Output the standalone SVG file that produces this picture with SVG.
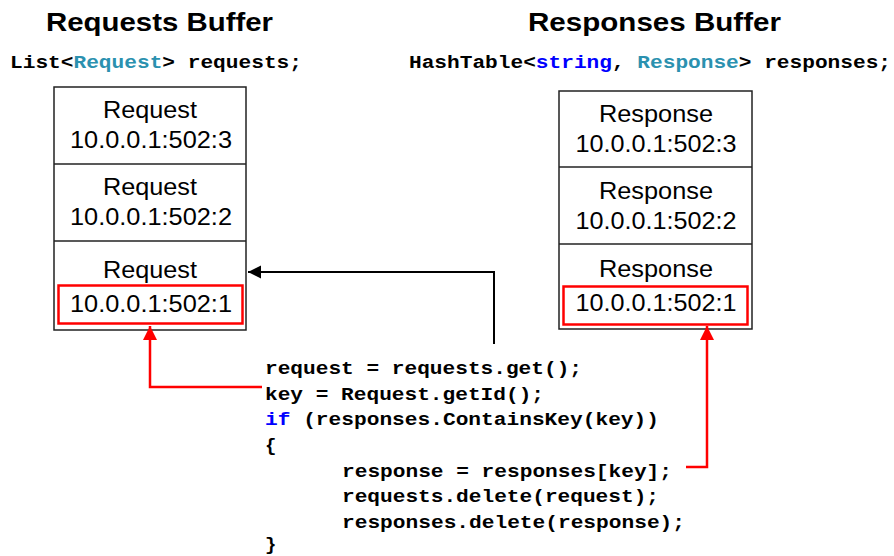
<svg xmlns="http://www.w3.org/2000/svg" width="894" height="556" viewBox="0 0 894 556">
<style>
.title{font-family:"Liberation Sans",Arial,sans-serif;font-weight:bold;font-size:26px;fill:#000}
.code{font-family:"Liberation Mono","Courier New",monospace;font-weight:bold;font-size:19px;fill:#000}
.cell{font-family:"Liberation Sans",Arial,sans-serif;font-size:23px;fill:#000;text-anchor:middle}
.box{fill:#fff;stroke:#222;stroke-width:1.5}
.div{stroke:#222;stroke-width:1.5}
.hl{fill:none;stroke:#f00;stroke-width:2.5}
.type{fill:#2b91af}
.kw{fill:#0000ff}
</style>
<defs>
<marker id="ah" viewBox="0 0 10 10" refX="10" refY="5" markerWidth="6.5" markerHeight="7" markerUnits="strokeWidth" orient="auto">
<path d="M0,0 L10,5 L0,10 z" fill="#000"/>
</marker>
<marker id="ahr" viewBox="0 0 10 10" refX="10" refY="5" markerWidth="5.6" markerHeight="5.6" markerUnits="strokeWidth" orient="auto">
<path d="M0,0 L10,5 L0,10 z" fill="#f00"/>
</marker>
</defs>

<g id="titles">
<text class="title" x="46" y="31" textLength="227" lengthAdjust="spacingAndGlyphs">Requests Buffer</text>
<text class="title" x="528" y="31" textLength="253" lengthAdjust="spacingAndGlyphs">Responses Buffer</text>
<text class="code" x="10" y="68" textLength="292" lengthAdjust="spacingAndGlyphs">List&lt;<tspan class="type">Request</tspan>&gt; requests;</text>
<text class="code" x="409" y="68" textLength="482" lengthAdjust="spacingAndGlyphs">HashTable&lt;<tspan class="kw">string</tspan>, <tspan class="type">Response</tspan>&gt; responses;</text>
</g>

<g id="requests">
<rect class="box" x="54" y="87" width="192" height="243"/>
<line class="div" x1="54" y1="164" x2="246" y2="164"/>
<line class="div" x1="54" y1="241" x2="246" y2="241"/>
<text class="cell" x="150" y="118" textLength="94" lengthAdjust="spacingAndGlyphs">Request</text>
<text class="cell" x="151" y="148" textLength="162" lengthAdjust="spacingAndGlyphs">10.0.0.1:502:3</text>
<text class="cell" x="150" y="195" textLength="94" lengthAdjust="spacingAndGlyphs">Request</text>
<text class="cell" x="151" y="225" textLength="162" lengthAdjust="spacingAndGlyphs">10.0.0.1:502:2</text>
<text class="cell" x="150" y="278" textLength="94" lengthAdjust="spacingAndGlyphs">Request</text>
<rect class="hl" x="58.5" y="285.5" width="184" height="38"/>
<text class="cell" x="151" y="312" textLength="162" lengthAdjust="spacingAndGlyphs">10.0.0.1:502:1</text>
</g>

<g id="responses">
<rect class="box" x="559" y="91" width="193" height="238"/>
<line class="div" x1="559" y1="167" x2="752" y2="167"/>
<line class="div" x1="559" y1="244" x2="752" y2="244"/>
<text class="cell" x="656" y="122" textLength="114" lengthAdjust="spacingAndGlyphs">Response</text>
<text class="cell" x="656" y="152" textLength="161" lengthAdjust="spacingAndGlyphs">10.0.0.1:502:3</text>
<text class="cell" x="656" y="199" textLength="114" lengthAdjust="spacingAndGlyphs">Response</text>
<text class="cell" x="656" y="229" textLength="161" lengthAdjust="spacingAndGlyphs">10.0.0.1:502:2</text>
<text class="cell" x="656" y="277" textLength="114" lengthAdjust="spacingAndGlyphs">Response</text>
<rect class="hl" x="563.5" y="286.5" width="184" height="38"/>
<text class="cell" x="656" y="311" textLength="161" lengthAdjust="spacingAndGlyphs">10.0.0.1:502:1</text>
</g>

<g id="code">
<text class="code" x="265" y="374" textLength="317" lengthAdjust="spacingAndGlyphs">request = requests.get();</text>
<text class="code" x="265" y="400" textLength="279" lengthAdjust="spacingAndGlyphs">key = Request.getId();</text>
<text class="code" x="265" y="425" textLength="394" lengthAdjust="spacingAndGlyphs"><tspan class="kw">if</tspan> (responses.ContainsKey(key))</text>
<text class="code" x="265" y="451">{</text>
<text class="code" x="342" y="477" textLength="330" lengthAdjust="spacingAndGlyphs">response = responses[key];</text>
<text class="code" x="342" y="502" textLength="317" lengthAdjust="spacingAndGlyphs">requests.delete(request);</text>
<text class="code" x="342" y="528" textLength="343" lengthAdjust="spacingAndGlyphs">responses.delete(response);</text>
<text class="code" x="265" y="550">}</text>
</g>

<g id="connectors">
<polyline points="494,344 494,272 248,272" fill="none" stroke="#000" stroke-width="2" marker-end="url(#ah)"/>
<polyline points="262,387 150,387 150,326" fill="none" stroke="#f00" stroke-width="2.5" marker-end="url(#ahr)"/>
<polyline points="686,467 707,467 707,326" fill="none" stroke="#f00" stroke-width="2.5" marker-end="url(#ahr)"/>
</g>
</svg>
